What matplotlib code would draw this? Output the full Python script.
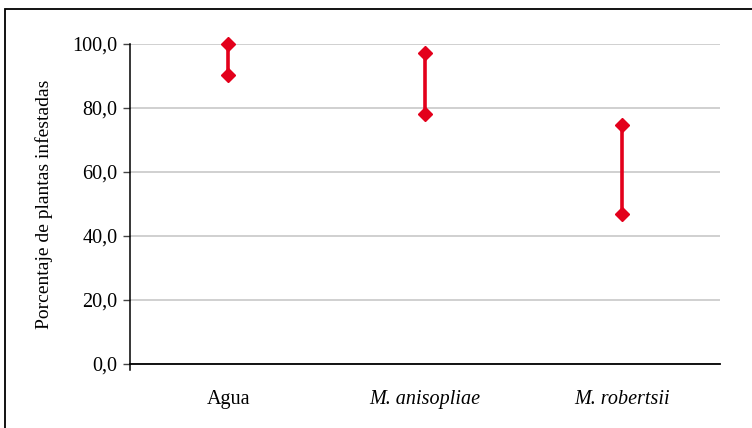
import matplotlib
matplotlib.use("Agg")
import matplotlib.pyplot as plt
from matplotlib.patches import Rectangle

categories = ["Agua", "M. anisopliae", "M. robertsii"]
high_values = [100.0, 97.3, 74.6]
low_values = [90.2, 78.0, 46.9]
yticks = [0, 20, 40, 60, 80, 100]
ytick_labels = ["0,0", "20,0", "40,0", "60,0", "80,0", "100,0"]

plt.rcParams['font.family'] = ['Liberation Serif', 'DejaVu Serif']

fig = plt.figure(figsize=(7.52, 4.28), dpi=100)
ax = fig.add_axes([130/752, 1-364/428, 590/752, 320/428])

red = "#E3001B"
x = list(range(len(categories)))
for xi, hi, lo in zip(x, high_values, low_values):
    ax.plot([xi, xi], [lo, hi], color=red, lw=2.6, solid_capstyle='butt', zorder=3, clip_on=False)
    ax.plot([xi, xi], [lo, hi], linestyle='none', marker='D', markersize=7.5,
            color=red, zorder=4, clip_on=False)

ax.set_xlim(-0.5, 2.5)
ax.set_ylim(0, 100)
ax.set_yticks(yticks)
ax.set_yticklabels(ytick_labels, fontsize=14.5)
ax.set_xticks(x)
ax.set_xticklabels(categories, fontsize=14.5)
for i, lbl in enumerate(ax.get_xticklabels()):
    if i > 0:
        lbl.set_fontstyle('italic')
ax.tick_params(axis='x', length=0, pad=19)
ax.tick_params(axis='y', length=5, width=1, direction='out', pad=4, color='#444444')

ax.yaxis.grid(True, color='#C8C8C8', lw=1.2)
ax.set_axisbelow(True)
for s in ['top', 'right']:
    ax.spines[s].set_visible(False)
ax.spines['left'].set_color('black')
ax.spines['bottom'].set_color('black')
ax.spines['left'].set_linewidth(1.1)
ax.spines['bottom'].set_linewidth(1.3)
ax.spines['left'].set_bounds(-2, 100)

ax.set_ylabel("Porcentaje de plantas infestadas", fontsize=14, labelpad=14)

fig.patches.append(Rectangle((5/752, -0.1), 1.2, 1 - 9/428 + 0.1,
                             transform=fig.transFigure, fill=False,
                             edgecolor='black', lw=1.3))

fig.savefig("out.png", dpi=100)
